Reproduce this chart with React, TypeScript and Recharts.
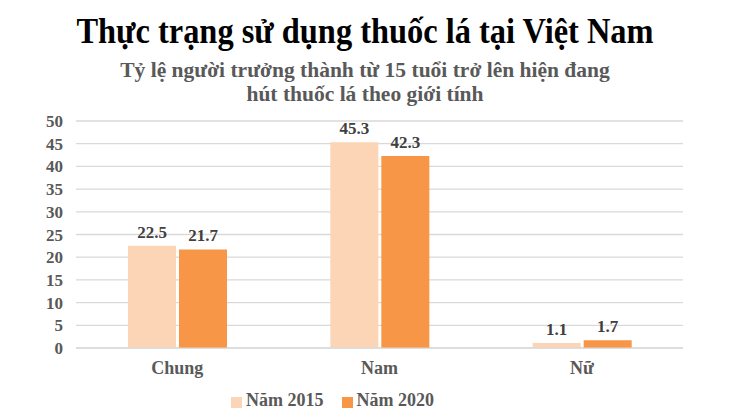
import React from "react";
import { BarChart, Bar, XAxis, YAxis, CartesianGrid, Legend, LabelList } from "recharts";

const categories = ["Chung", "Nam", "Nữ"];
const values2015 = [22.5, 45.3, 1.1];
const values2020 = [21.7, 42.3, 1.7];
const yTicks = [0, 5, 10, 15, 20, 25, 30, 35, 40, 45, 50];

const data = categories.map((c, i) => ({ name: c, y2015: values2015[i], y2020: values2020[i] }));

const FONT = '"Liberation Serif", "Times New Roman", serif';

export default function App() {
  return (
    <div style={{ position: "absolute", left: 0, top: 0, width: 730, height: 420, background: "#fff", fontFamily: FONT }}>
      <div style={{ position: "absolute", left: 0, top: 11, width: 730, textAlign: "center", fontSize: 36, fontWeight: "bold", color: "#000", lineHeight: "40px", transform: "scaleX(0.9)" }}>
        Thực trạng sử dụng thuốc lá tại Việt Nam
      </div>
      <div style={{ position: "absolute", left: 0, top: 58, width: 730, textAlign: "center", fontSize: 21.5, fontWeight: "bold", color: "#595959", lineHeight: "24px" }}>
        Tỷ lệ người trưởng thành từ 15 tuổi trở lên hiện đang<br />hút thuốc lá theo giới tính
      </div>
      <div style={{ position: "absolute", left: 0, top: 0 }}>
        <BarChart width={730} height={420} data={data} margin={{ top: 121, right: 47, bottom: 0, left: 0 }} barGap={3} barCategoryGap="25%">
          <CartesianGrid vertical={false} stroke="#D9D9D9" strokeWidth={1.3} />
          <XAxis dataKey="name" tickLine={false} axisLine={{ stroke: "#D9D9D9" }} height={42} tickMargin={7}
            tick={{ fill: "#595959", fontFamily: FONT, fontSize: 18, fontWeight: "bold" }} />
          <YAxis width={76} domain={[0, 50]} ticks={yTicks} interval={0} tickLine={false} axisLine={false} tickMargin={7}
            tick={{ fill: "#595959", fontFamily: FONT, fontSize: 17, fontWeight: "bold" }} />
          <Legend verticalAlign="bottom" align="center" iconType="square" iconSize={11} height={30}
            formatter={(v) => <span style={{ color: "#595959", fontFamily: FONT, fontSize: 18, fontWeight: "bold", paddingRight: 8 }}>{v}</span>} />
          <Bar dataKey="y2015" name="Năm 2015" fill="#FBD5B5" barSize={48} isAnimationActive={false}>
            <LabelList dataKey="y2015" position="top" offset={8} fill="#404040" style={{ fontFamily: FONT, fontSize: 17, fontWeight: "bold" }} />
          </Bar>
          <Bar dataKey="y2020" name="Năm 2020" fill="#F79646" barSize={48} isAnimationActive={false}>
            <LabelList dataKey="y2020" position="top" offset={8} fill="#404040" style={{ fontFamily: FONT, fontSize: 17, fontWeight: "bold" }} />
          </Bar>
        </BarChart>
      </div>
    </div>
  );
}
